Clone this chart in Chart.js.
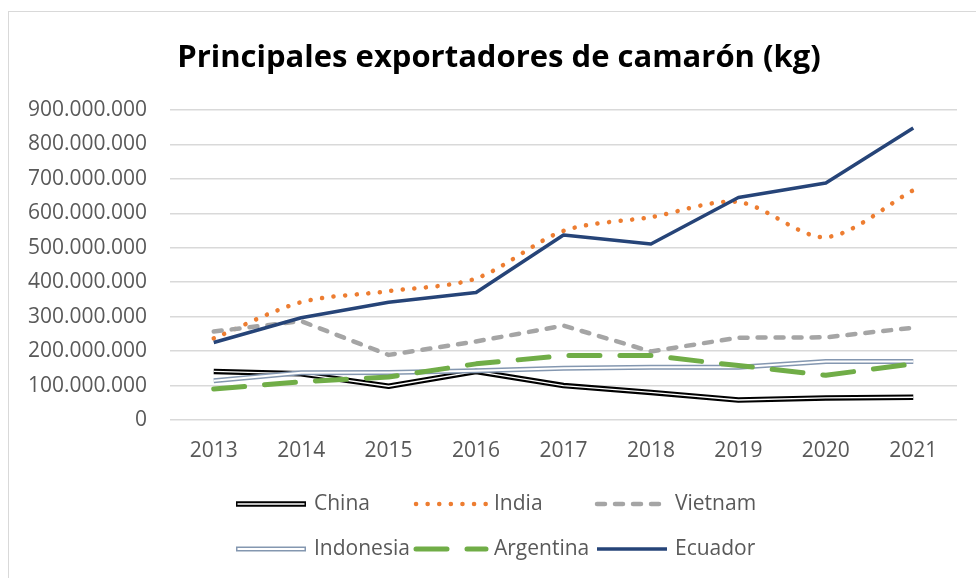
<!DOCTYPE html>
<html>
<head>
<meta charset="utf-8">
<title>Principales exportadores de camarón (kg)</title>
<script src="https://cdn.jsdelivr.net/npm/chart.js@4.4.1/dist/chart.umd.min.js"></script>
<style>
  html, body { margin: 0; padding: 0; background: #fff; overflow: hidden; }
  #wrap {
    position: absolute; left: 8px; top: 11px;
    width: 980px; height: 580px;
    border-left: 1px solid #d9d9d9; border-top: 1px solid #d9d9d9;
  }
</style>
</head>
<body>
<div id="wrap"><canvas id="chart"></canvas></div>
<script>
// kg exported per year
const years = ["2013", "2014", "2015", "2016", "2017", "2018", "2019", "2020", "2021"];
const china = [141000000, 134000000, 98000000, 141000000, 100000000, 80000000, 58000000, 64000000, 66000000];
const india = [237000000, 342000000, 374000000, 411000000, 549000000, 589000000, 633000000, 531000000, 667000000];
const vietnam = [257000000, 287000000, 189000000, 228000000, 274000000, 199000000, 239000000, 240000000, 268000000];
const indonesia = [114000000, 137000000, 138000000, 143000000, 150000000, 153000000, 153000000, 170000000, 170000000];
const argentina = [90000000, 111000000, 125000000, 163000000, 187000000, 187000000, 158000000, 130000000, 163000000];
const ecuador = [225000000, 297000000, 342000000, 370000000, 537000000, 511000000, 646000000, 688000000, 848000000];
const yTicks = [0, 100000000, 200000000, 300000000, 400000000, 500000000, 600000000, 700000000, 800000000, 900000000];

const FONT = "'Open Sans', 'Liberation Sans', sans-serif";
const TEXT = "#595959";

const fmt = (v) => String(v).replace(/\B(?=(\d{3})+(?!\d))/g, ".");

const line = (label, data, color, width, extra) => Object.assign({
  label,
  data,
  borderColor: color,
  backgroundColor: color,
  borderWidth: width,
  pointRadius: 0,
  pointHoverRadius: 0,
  fill: false,
  tension: 0,
  borderJoinStyle: "round",
}, extra || {});

const datasets = [
  line("China", china, "#000000", 5.5, { order: 8, inner: 1.3 }),
  line("", china, "#ffffff", 1.3, { order: 7, isInner: true }),
  line("India", india, "#ed7d31", 4.5, { order: 6, borderDash: [0.1, 11.5], borderCapStyle: "round", tension: 0.3 }),
  line("Vietnam", vietnam, "#a5a5a5", 4.5, { order: 5, borderDash: [8, 10], borderCapStyle: "round" }),
  line("Indonesia", indonesia, "#8497b0", 5, { order: 4, inner: 2 }),
  line("", indonesia, "#ffffff", 2, { order: 3, isInner: true }),
  line("Argentina", argentina, "#70ad47", 5, { order: 2, borderDash: [31, 20], borderCapStyle: "round" }),
  line("Ecuador", ecuador, "#264478", 3.5, { order: 1 }),
];

// legend laid out in a 3 x 2 grid under the plot, like the Excel original
const excelLegend = {
  id: "excelLegend",
  afterDraw(chart) {
    const ctx = chart.ctx;
    const colX = [227, 407, 588];
    const rowY = [492, 537];
    const items = chart.data.datasets.filter((d) => !d.isInner);
    ctx.save();
    items.forEach((d, i) => {
      const x = colX[i % 3];
      const y = rowY[Math.floor(i / 3)];
      ctx.beginPath();
      ctx.strokeStyle = d.borderColor;
      ctx.lineWidth = d.borderWidth;
      ctx.lineCap = d.borderCapStyle || "butt";
      ctx.setLineDash(d.borderDash || []);
      ctx.moveTo(x, y);
      ctx.lineTo(x + 70, y);
      ctx.stroke();
      if (d.inner) {
        ctx.beginPath();
        ctx.strokeStyle = "#ffffff";
        ctx.lineWidth = d.inner;
        ctx.setLineDash([]);
        ctx.moveTo(x + 1.5, y);
        ctx.lineTo(x + 68.5, y);
        ctx.stroke();
      }
      ctx.setLineDash([]);
      ctx.fillStyle = TEXT;
      ctx.font = "21px " + FONT;
      ctx.textAlign = "left";
      ctx.textBaseline = "middle";
      ctx.fillText(d.label, x + 78, y);
    });
    ctx.restore();
  },
};

new Chart(document.getElementById("chart"), {
  type: "line",
  data: { labels: years, datasets },
  plugins: [excelLegend],
  options: {
    responsive: true,
    maintainAspectRatio: false,
    animation: false,
    layout: { padding: 0 },
    plugins: {
      legend: { display: false },
      tooltip: { enabled: false },
      title: {
        display: true,
        text: "Principales exportadores de camarón (kg)",
        color: "#000000",
        font: { family: FONT, size: 31, weight: "bold", lineHeight: 1.2 },
        padding: { top: 28, bottom: 32.8 },
      },
    },
    scales: {
      x: {
        offset: true,
        grid: { display: false, drawTicks: false },
        border: { display: false },
        ticks: { color: TEXT, font: { family: FONT, size: 21 }, padding: 18, maxRotation: 0 },
        afterFit(scale) { scale.height = 172; },
      },
      y: {
        min: 0,
        max: 900000000,
        afterBuildTicks(scale) { scale.ticks = yTicks.map((value) => ({ value })); },
        grid: { color: "#d9d9d9", lineWidth: 1.5, drawTicks: false },
        border: { display: false },
        ticks: { color: TEXT, font: { family: FONT, size: 21 }, padding: 23, callback: (v) => fmt(v) },
        afterFit(scale) { scale.width = 161; },
      },
      // empty axis that only keeps the right-hand margin of the plot area
      yRight: {
        position: "right",
        grid: { display: false, drawTicks: false },
        border: { display: false },
        ticks: { display: false },
        afterFit(scale) { scale.width = 32; },
      },
    },
  },
});
</script>
</body>
</html>
